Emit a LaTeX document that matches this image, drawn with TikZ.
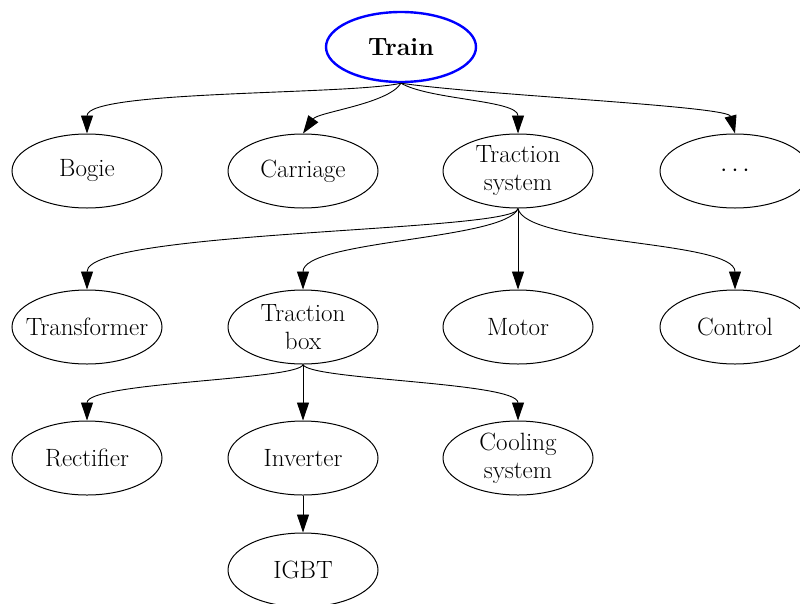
\documentclass[tikz,border=0pt]{standalone}
\usetikzlibrary{shapes.geometric,arrows.meta}
\begin{document}
\begin{tikzpicture}[x=1pt,y=-1pt,
  box/.style={ellipse,draw,line width=1pt,minimum width=150pt,minimum height=74pt,inner sep=0pt,align=center,font=\fontsize{25}{28}\selectfont},
  root/.style={box,draw=blue,line width=2.4pt,minimum height=70pt,font=\fontsize{25}{28}\selectfont\bfseries},
  edge/.style={-{Triangle[length=18pt,width=12pt]},line width=0.9pt}]
\useasboundingbox (0,0) rectangle (800,603);
\clip (0,0) rectangle (800,603);
\node[root] (train) at (401,47) {Train};
\node[box] (bogie) at (87,171) {Bogie};
\node[box] (carriage) at (303,171) {Carriage};
\node[box] (tsys) at (518,171) {Traction\\system};
\node[box] (more) at (735,171) {$\cdots$};
\node[box] (transformer) at (87,327) {\makebox[100pt]{Transformer}};
\node[box] (tbox) at (303,327) {Traction\\box};
\node[box] (motor) at (518,327) {Motor};
\node[box] (control) at (735,327) {Control};
\node[box] (rectifier) at (87,458) {Rectifier};
\node[box] (inverter) at (303,458) {Inverter};
\node[box] (cooling) at (518,458) {Cooling\\system};
\node[box] (igbt) at (303,570) {IGBT};
\draw[edge] (train.south) .. controls (350,95) and (87,90) .. (bogie.north);
\draw[edge] (train.south) .. controls (388,104) and (318,112) .. (carriage.north);
\draw[edge] (train.south) .. controls (430,100) and (518,100) .. (tsys.north);
\draw[edge] (train.south) .. controls (480,95) and (728,106) .. (more.north);
\draw[edge] (tsys.south) .. controls (518,232) and (87,230) .. (transformer.north);
\draw[edge] (tsys.south) .. controls (506,240) and (303,240) .. (tbox.north);
\draw[edge] (tsys.south) -- (motor.north);
\draw[edge] (tsys.south) .. controls (526,245) and (735,240) .. (control.north);
\draw[edge] (tbox.south) .. controls (300,380) and (87,382) .. (rectifier.north);
\draw[edge] (tbox.south) -- (inverter.north);
\draw[edge] (tbox.south) .. controls (308,380) and (518,382) .. (cooling.north);
\draw[edge] (inverter.south) -- (igbt.north);
\end{tikzpicture}
\end{document}
